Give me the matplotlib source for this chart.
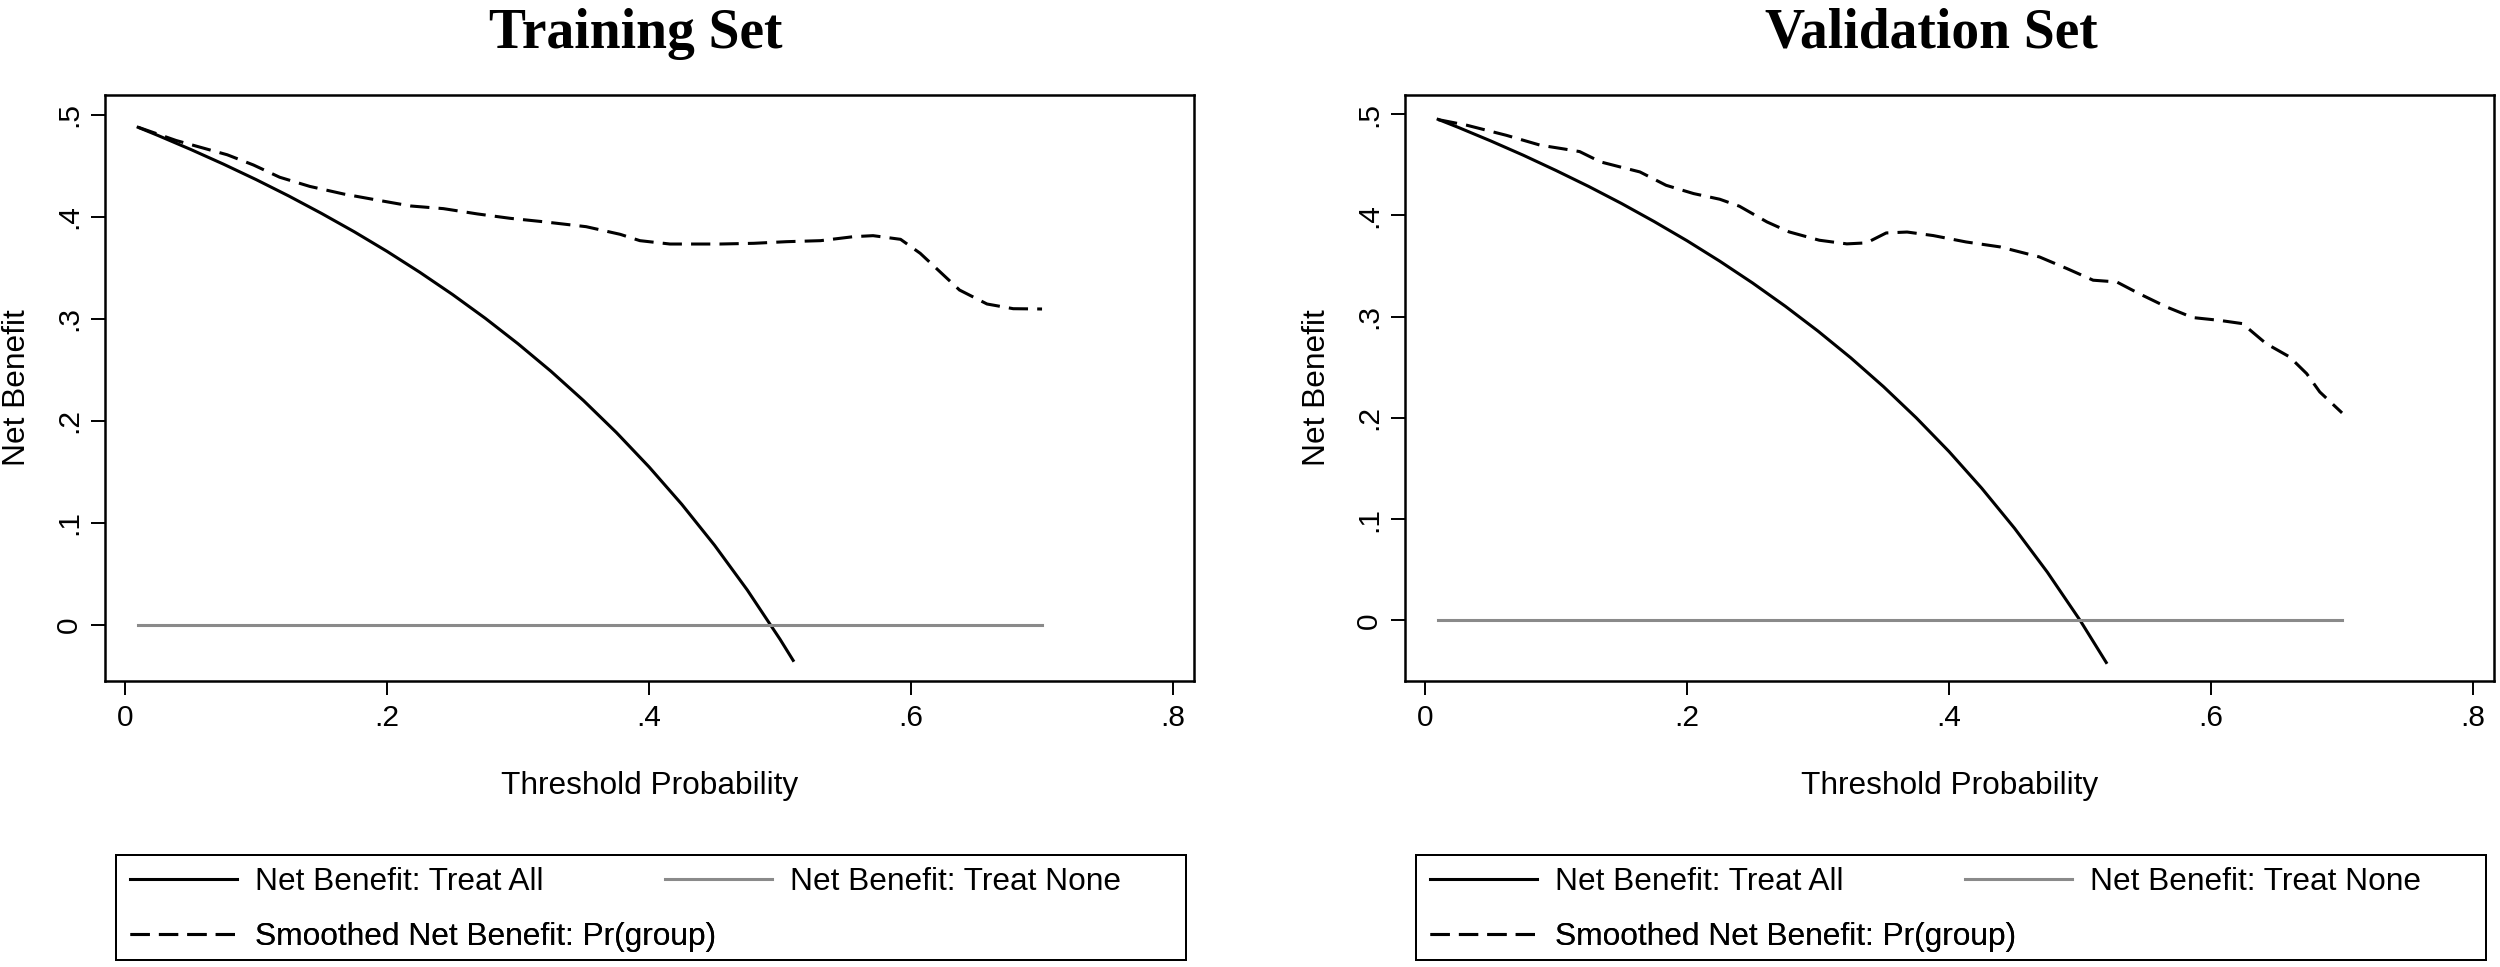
import matplotlib
matplotlib.use("Agg")
import matplotlib.pyplot as plt

plt.rcParams["font.family"] = ["Liberation Sans", "DejaVu Sans"]

# ---------------- data ----------------
titles = ["Training Set", "Validation Set"]
x_ticks = [0, 0.2, 0.4, 0.6, 0.8]
x_tick_labels = ["0", ".2", ".4", ".6", ".8"]
y_ticks = [0, 0.1, 0.2, 0.3, 0.4, 0.5]
y_tick_labels = ["0", ".1", ".2", ".3", ".4", ".5"]
legend_labels = ["Net Benefit: Treat All", "Net Benefit: Treat None",
                 "Smoothed Net Benefit: Pr(group)"]

# Training: Treat All
train_all_thr = [0.01, 0.025, 0.05, 0.075, 0.10, 0.125, 0.15, 0.175, 0.20, 0.225,
                 0.25, 0.275, 0.30, 0.325, 0.35, 0.375, 0.40, 0.425, 0.45, 0.475,
                 0.50, 0.51]
train_all_nb = [0.4879, 0.4800, 0.4663, 0.4519, 0.4367, 0.4206, 0.4035, 0.3855,
                0.3663, 0.3458, 0.3240, 0.3007, 0.2757, 0.2489, 0.2200, 0.1888,
                0.1550, 0.1183, 0.0782, 0.0343, -0.0140, -0.0347]
# Training: Treat None
train_none_thr = [0.01, 0.70]
train_none_nb = [0.0, 0.0]
# Training: smoothed model
train_sm_thr = [0.010, 0.039, 0.078, 0.098, 0.118, 0.141, 0.167, 0.192, 0.218,
                0.243, 0.269, 0.294, 0.319, 0.352, 0.378, 0.393, 0.416, 0.454,
                0.480, 0.505, 0.531, 0.556, 0.571, 0.592, 0.607, 0.622, 0.637,
                0.658, 0.678, 0.700]
train_sm_nb = [0.488, 0.475, 0.461, 0.451, 0.439, 0.430, 0.4225, 0.4167, 0.4108,
               0.4082, 0.403, 0.3987, 0.3954, 0.3905, 0.383, 0.3768, 0.3735,
               0.3735, 0.3742, 0.3758, 0.3768, 0.3807, 0.3817, 0.3781, 0.3644,
               0.3464, 0.3284, 0.3147, 0.3101, 0.3098]

# Validation: Treat All
val_all_thr = [0.01, 0.025, 0.05, 0.075, 0.10, 0.125, 0.15, 0.175, 0.20, 0.225,
               0.25, 0.275, 0.30, 0.325, 0.35, 0.375, 0.40, 0.425, 0.45, 0.475,
               0.50, 0.52]
val_all_nb = [0.4949, 0.4872, 0.4737, 0.4595, 0.4444, 0.4286, 0.4118, 0.3939,
              0.3750, 0.3548, 0.3333, 0.3103, 0.2857, 0.2593, 0.2308, 0.2000,
              0.1667, 0.1304, 0.0909, 0.0476, 0.0000, -0.0417]
# Validation: Treat None
val_none_thr = [0.01, 0.70]
val_none_nb = [0.0, 0.0]
# Validation: smoothed model
val_sm_thr = [0.010, 0.032, 0.062, 0.088, 0.106, 0.118, 0.134, 0.149, 0.164,
              0.184, 0.205, 0.225, 0.240, 0.261, 0.278, 0.301, 0.322, 0.337,
              0.352, 0.368, 0.388, 0.413, 0.439, 0.469, 0.490, 0.510, 0.528,
              0.545, 0.566, 0.586, 0.606, 0.624, 0.642, 0.660, 0.673, 0.683,
              0.700]
val_sm_nb = [0.4947, 0.4891, 0.4792, 0.4694, 0.4657, 0.4631, 0.4529, 0.4479,
             0.443, 0.4298, 0.4216, 0.416, 0.4091, 0.3936, 0.3837, 0.3755,
             0.3719, 0.3729, 0.3827, 0.3836, 0.3801, 0.3738, 0.3689, 0.359,
             0.3475, 0.336, 0.3343, 0.3228, 0.3096, 0.2991, 0.2964, 0.2931,
             0.2734, 0.2602, 0.2437, 0.2256, 0.2049]

panels = [
    dict(all_t=train_all_thr, all_v=train_all_nb, none_t=train_none_thr,
         none_v=train_none_nb, sm_t=train_sm_thr, sm_v=train_sm_nb,
         ylim=(-0.0549, 0.5196)),
    dict(all_t=val_all_thr, all_v=val_all_nb, none_t=val_none_thr,
         none_v=val_none_nb, sm_t=val_sm_thr, sm_v=val_sm_nb,
         ylim=(-0.060, 0.519)),
]

# ---------------- layout ----------------
W, H = 2500, 967
fig = plt.figure(figsize=(W / 100, H / 100), dpi=100)
fig.patch.set_facecolor("white")

ax_left_px = [105, 1405]
ax_w_px, ax_top_px, ax_bot_px = 1089, 95, 681
title_x_px = [636, 1931]
leg_left_px = [116, 1416]
leg_w_px, leg_top_px, leg_bot_px = 1070, 855, 960

LW = 2.2
FS_TICK = 21.5
FS_LAB = 22.8

for i, p in enumerate(panels):
    ax = fig.add_axes([ax_left_px[i] / W, 1 - ax_bot_px / H, ax_w_px / W,
                       (ax_bot_px - ax_top_px) / H])
    h_all, = ax.plot(p["all_t"], p["all_v"], color="black", lw=LW,
                     solid_joinstyle="round")
    h_none, = ax.plot(p["none_t"], p["none_v"], color="#8a8a8a", lw=LW)
    h_sm, = ax.plot(p["sm_t"], p["sm_v"], color="black", lw=LW,
                    linestyle=(0, (6.3, 3.0)))
    ax.set_xlim(-0.0153, 0.816)
    ax.set_ylim(*p["ylim"])
    ax.set_xticks(x_ticks)
    ax.set_xticklabels(x_tick_labels)
    ax.set_yticks(y_ticks)
    ax.set_yticklabels(y_tick_labels)
    ax.tick_params(axis="both", direction="out", length=10, width=1.4,
                   labelsize=FS_TICK, colors="black")
    ax.tick_params(axis="x", pad=6.5)
    ax.tick_params(axis="y", pad=5.6)
    for lab in ax.get_yticklabels():
        lab.set_rotation(90)
        lab.set_va("center")
    for s in ax.spines.values():
        s.set_linewidth(1.8)
        s.set_color("black")
    ax.set_xlabel("Threshold Probability", fontsize=FS_LAB, va="center")
    ax.xaxis.set_label_coords(0.5, -0.179)
    ax.set_ylabel("Net Benefit", fontsize=FS_LAB, va="center")
    ax.yaxis.set_label_coords(-0.081, 0.5)

    fig.text(title_x_px[i] / W, 1 - 48 / H, titles[i], ha="center",
             va="baseline", fontsize=40, fontweight="bold",
             family=["Liberation Serif", "DejaVu Serif"])

    # legend box
    lax = fig.add_axes([leg_left_px[i] / W, 1 - leg_bot_px / H, leg_w_px / W,
                        (leg_bot_px - leg_top_px) / H])
    lax.set_xticks([])
    lax.set_yticks([])
    for s in lax.spines.values():
        s.set_linewidth(1.44)
        s.set_color("black")
    entries = [(h_all, legend_labels[0], 0.0131, 0.743),
               (h_none, legend_labels[1], 0.513, 0.743),
               (h_sm, legend_labels[2], 0.0131, 0.219)]
    legs = []
    for h, lab, lx, ly in entries:
        lg = lax.legend([h], [lab], loc="center left", bbox_to_anchor=(lx, ly),
                        bbox_transform=lax.transAxes, frameon=False,
                        fontsize=FS_LAB, handlelength=3.375, handletextpad=0.57,
                        borderpad=0, borderaxespad=0)
        legs.append(lg)
        lax.add_artist(lg)

fig.savefig("out.png", dpi=100, facecolor="white")
